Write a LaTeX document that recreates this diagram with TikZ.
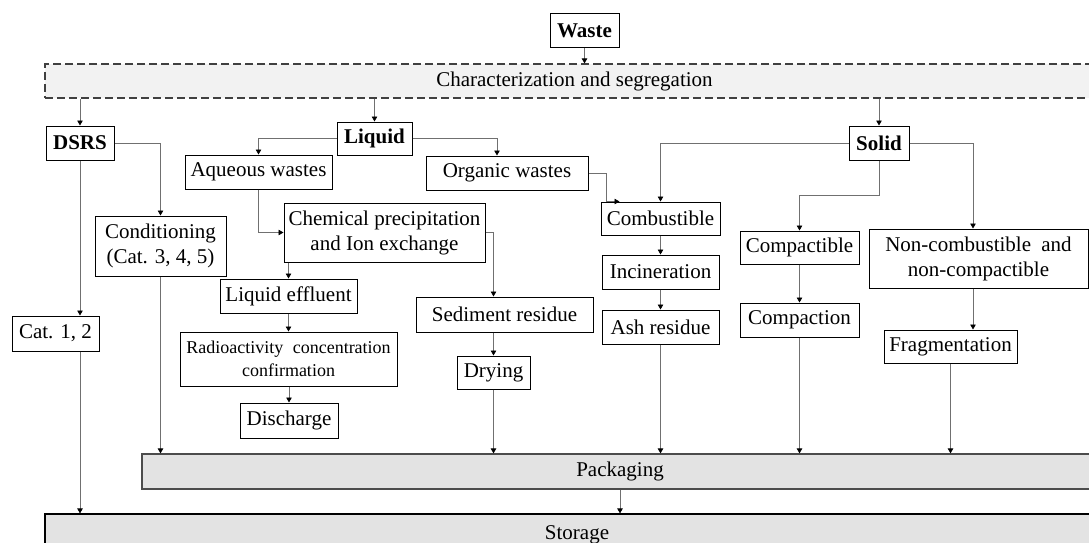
\documentclass[tikz,border=0pt]{standalone}
\usepackage{fontspec}
\setmainfont{Liberation Serif}
\usetikzlibrary{arrows.meta,calc}
\definecolor{lnc}{HTML}{707070}
\definecolor{charfill}{HTML}{F2F2F2}
\definecolor{packfill}{HTML}{E3E3E3}
\tikzset{
  box/.style={draw=black, line width=1pt, fill=white, inner sep=0pt, align=center,
    font=\fontsize{21}{25}\selectfont},
  bbox/.style={box, font=\fontsize{21}{25}\selectfont\bfseries},
  smallbox/.style={box, font=\fontsize{18}{23}\selectfont},
  band/.style={draw=black!70, line width=1.2pt, fill=packfill, inner sep=0pt,
    font=\fontsize{21}{25}\selectfont},
  arr/.style={draw=lnc, line width=0.8pt, -{Triangle[length=5pt,width=5.5pt,color=black]}},
}
\begin{document}
\begin{tikzpicture}[x=1pt,y=-1pt]
\useasboundingbox (0,0) rectangle (1089,543);
\clip (0,0) rectangle (1089,543);
\fill[white] (0,0) rectangle (1089,543);
% top
\node[bbox, minimum width=69, minimum height=34] (waste) at (584.5,31) {Waste};
\node[draw=black!75, dash pattern=on 8pt off 4pt, line width=1.2pt, fill=charfill,
  inner sep=0pt, font=\fontsize{21}{25}\selectfont,
  minimum width=1059, minimum height=34] (char) at (574.5,81) {Characterization and segregation};
% level 1
\node[bbox, minimum width=68, minimum height=34] (dsrs) at (80,143) {DSRS};
\node[bbox, minimum width=75, minimum height=33] (liquid) at (374.5,138.5) {Liquid};
\node[bbox, minimum width=60, minimum height=34] (solid) at (879,143) {Solid};
% liquid branch
\node[box, minimum width=147, minimum height=34] (aqueous) at (258.5,172) {Aqueous wastes};
\node[box, minimum width=162, minimum height=34] (organic) at (507,173) {Organic wastes};
\node[box, minimum width=201, minimum height=59] (chem) at (384.5,232.5) {Chemical precipitation\\and Ion exchange};
\node[box, minimum width=137, minimum height=34] (eff) at (288.5,296) {Liquid effluent};
\node[smallbox, minimum width=217, minimum height=54] (radio) at (288.5,359) {Radioactivity\hspace{5pt} concentration\\confirmation};
\node[box, minimum width=98, minimum height=35] (disch) at (289,420.5) {Discharge};
\node[box, minimum width=177, minimum height=35] (sed) at (504.5,314.5) {Sediment residue};
\node[box, minimum width=73, minimum height=33] (dry) at (493.5,372.5) {Drying};
% DSRS branch
\node[box, minimum width=131, minimum height=60] (cond) at (160.5,246) {Conditioning\\(Cat. 3, 4, 5)};
\node[box, minimum width=87, minimum height=35] (cat) at (55.5,333.5) {Cat. 1, 2};
% solid branch
\node[box, minimum width=119, minimum height=33] (comb) at (660.5,218.5) {Combustible};
\node[box, minimum width=117, minimum height=34] (incin) at (660.5,272) {Incineration};
\node[box, minimum width=117, minimum height=34] (ash) at (660.5,327) {Ash residue};
\node[box, minimum width=119, minimum height=33] (compt) at (799.5,247.5) {Compactible};
\node[box, minimum width=119, minimum height=34] (compn) at (799.5,320) {Compaction};
\node[box, minimum width=219, minimum height=59] (noncomb) at (978.5,258.5) {Non-combustible\hspace{5pt} and\\non-compactible};
\node[box, minimum width=133, minimum height=33] (frag) at (950.5,346.5) {Fragmentation};
% bands
\node[band, minimum width=956, minimum height=35] (pack) at (620,471.5) {Packaging};
\node[band, draw=black, minimum width=1064, minimum height=41] (storage) at (577,534.5) {Storage};
% helper coordinates
\coordinate (nx) at (973,0);
\coordinate (sx) at (879,195);
% connectors
\draw[arr] (waste.south) -- (waste.south |- char.north);
\draw[arr] (dsrs.north |- char.south) -- (dsrs.north);
\draw[arr] (liquid.north |- char.south) -- (liquid.north);
\draw[arr] (solid.north |- char.south) -- (solid.north);
\draw[arr] (liquid.west) -| (aqueous.north);
\draw[arr] (liquid.east) -| ([xshift=-10pt]organic.north);
\draw[arr] (dsrs.east) -| (cond.north);
\draw[arr] (dsrs.south) -- (dsrs.south |- cat.north);
\draw[arr] (aqueous.south) |- (chem.west);
\draw[arr] (eff.north |- chem.south) -- (eff.north);
\draw[arr] (chem.east) -| (dry.north |- sed.north);
\draw[arr] (dry.north |- sed.south) -- (dry.north);
\draw[arr] (eff.south) -- (radio.north);
\draw[arr] (disch.north |- radio.south) -- (disch.north);
\draw[arr] (organic.east) -- ++(18pt,0pt) |- ([xshift=19pt]comb.north west);
\draw[arr] (solid.west) -| (comb.north);
\draw[arr] (comb.south) -- (incin.north);
\draw[arr] (incin.south) -- (ash.north);
\draw[arr] (solid.south) -- (sx) -| (compt.north);
\draw[arr] (solid.east) -| (nx |- noncomb.north);
\draw[arr] (compt.south) -- (compn.north);
\draw[arr] (nx |- noncomb.south) -- (nx |- frag.north);
\draw[arr] (cond.south) -- (cond.south |- pack.north);
\draw[arr] (dry.south) -- (dry.south |- pack.north);
\draw[arr] (ash.south) -- (ash.south |- pack.north);
\draw[arr] (compn.south) -- (compn.south |- pack.north);
\draw[arr] (frag.south) -- (frag.south |- pack.north);
\draw[arr] (pack.south) -- (pack.south |- storage.north);
\draw[arr] (dsrs.south |- cat.south) -- (dsrs.south |- storage.north);
\end{tikzpicture}
\end{document}
